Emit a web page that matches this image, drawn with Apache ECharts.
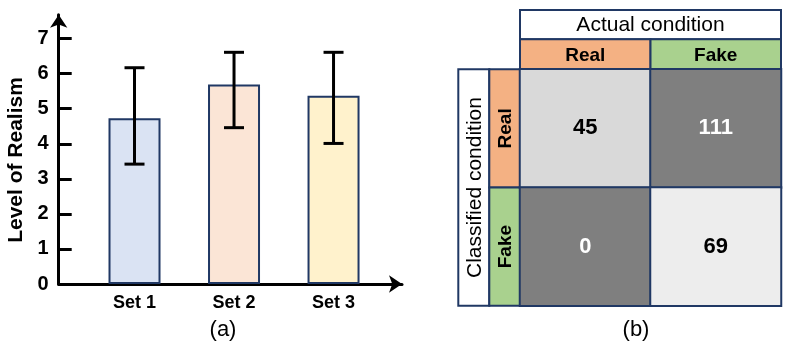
<!DOCTYPE html>
<html>
<head>
<meta charset="utf-8">
<script src="https://cdn.jsdelivr.net/npm/echarts@6/dist/echarts.min.js"></script>
<style>
html,body{margin:0;padding:0;background:#fff;}
#main{width:788px;height:343px;}
</style>
</head>
<body>
<div id="main"></div>
<script>
// ---- data: panel (a) ----
var categories = ['Set 1', 'Set 2', 'Set 3'];
var setMeans = [4.73, 5.69, 5.37];
var errLow = [3.42, 4.46, 4.01];
var errHigh = [6.17, 6.61, 6.61];
var yTicks = [0, 1, 2, 3, 4, 5, 6, 7];
var yAxisName = 'Level of Realism';
// ---- data: panel (b) ----
var actualLabels = ['Real', 'Fake'];
var classifiedLabels = ['Real', 'Fake'];
var counts = [[45, 111], [0, 69]]; // rows: classified, cols: actual
var actualTitle = 'Actual condition';
var classifiedTitle = 'Classified condition';

// ---- styles ----
var FONT = '"Liberation Sans", Arial, Helvetica, sans-serif';
var barColors = ['#DAE3F3', '#FBE5D6', '#FFF2CC'];
var headerColors = ['#F4B183', '#A9D18E'];
var cellColors = [['#D9D9D9', '#7F7F7F'], ['#7F7F7F', '#EDEDED']];
var cellTextColors = [['#000000', '#FFFFFF'], ['#FFFFFF', '#000000']];
var navy = '#203864';

var chart = echarts.init(document.getElementById('main'), null, {renderer: 'canvas'});

var barData = setMeans.map(function (v, i) { return [i + 1, v]; });
var errData = setMeans.map(function (v, i) { return [i + 1, errLow[i], errHigh[i]]; });

var heatData = [];
counts.forEach(function (row, r) {
  row.forEach(function (v, c) {
    heatData.push({
      value: [c, r, v],
      itemStyle: {color: cellColors[r][c]},
      label: {color: cellTextColors[r][c]}
    });
  });
});

// matrix layout
var mL = 520, mT = 69.3, mW = 261, mH = 236.4;
var hdrH = 30, topH = 29.3, sideW = 31, rowHdrW = 30.7;

var graphics = [];
// y axis title of panel (a)
graphics.push({type: 'text', x: 16, y: 160, rotation: Math.PI / 2,
  style: {text: yAxisName, font: 'bold 21px ' + FONT, fill: '#000', textAlign: 'center', textVerticalAlign: 'middle'}});
// Actual condition box
graphics.push({type: 'rect', shape: {x: mL, y: mT - hdrH - topH, width: mW, height: topH},
  style: {fill: '#fff', stroke: navy, lineWidth: 2}});
graphics.push({type: 'text', x: mL + mW / 2, y: mT - hdrH - topH / 2 + 1,
  style: {text: actualTitle, font: '21px ' + FONT, fill: '#000', textAlign: 'center', textVerticalAlign: 'middle'}});
actualLabels.forEach(function (lab, i) {
  graphics.push({type: 'rect', shape: {x: mL + i * mW / 2, y: mT - hdrH, width: mW / 2, height: hdrH},
    style: {fill: headerColors[i], stroke: navy, lineWidth: 2}});
  graphics.push({type: 'text', x: mL + (i + 0.5) * mW / 2, y: mT - hdrH / 2 + 1.5,
    style: {text: lab, font: 'bold 19px ' + FONT, fill: '#000', textAlign: 'center', textVerticalAlign: 'middle'}});
});
// Classified condition box
graphics.push({type: 'rect', shape: {x: mL - rowHdrW - sideW, y: mT, width: sideW, height: mH},
  style: {fill: '#fff', stroke: navy, lineWidth: 2}});
graphics.push({type: 'text', x: mL - rowHdrW - sideW / 2 + 1, y: mT + mH / 2, rotation: Math.PI / 2,
  style: {text: classifiedTitle, font: '21px ' + FONT, fill: '#000', textAlign: 'center', textVerticalAlign: 'middle'}});
classifiedLabels.forEach(function (lab, i) {
  graphics.push({type: 'rect', shape: {x: mL - rowHdrW, y: mT + i * mH / 2, width: rowHdrW, height: mH / 2},
    style: {fill: headerColors[i], stroke: navy, lineWidth: 2}});
  graphics.push({type: 'text', x: mL - rowHdrW / 2 + 1, y: mT + (i + 0.5) * mH / 2, rotation: Math.PI / 2,
    style: {text: lab, font: 'bold 19px ' + FONT, fill: '#000', textAlign: 'center', textVerticalAlign: 'middle'}});
});
// panel captions
graphics.push({type: 'text', x: 223, y: 330,
  style: {text: '(a)', font: '22px ' + FONT, fill: '#000', textAlign: 'center', textVerticalAlign: 'middle'}});
graphics.push({type: 'text', x: 636, y: 330,
  style: {text: '(b)', font: '22px ' + FONT, fill: '#000', textAlign: 'center', textVerticalAlign: 'middle'}});

var option = {
  animation: false,
  backgroundColor: '#fff',
  textStyle: {fontFamily: FONT},
  grid: [
    {left: 58.7, right: 386, top: 14.8, bottom: 59, containLabel: false},
    {left: mL, top: mT, width: mW, height: mH, containLabel: false}
  ],
  xAxis: [
    {
      type: 'value', gridIndex: 0, min: 0.2382, max: 3.688,
      splitLine: {show: false},
      axisLine: {show: true, lineStyle: {color: '#000', width: 3}, symbol: ['none', 'arrow'], symbolSize: [13, 13]},
      axisTick: {show: false},
      axisLabel: {
        customValues: [1, 2, 3], margin: 10,
        formatter: function (v) { return categories[Math.round(v) - 1] || ''; },
        color: '#000', fontWeight: 'bold', fontSize: 18, fontFamily: FONT
      }
    },
    {type: 'category', gridIndex: 1, data: actualLabels, show: false}
  ],
  yAxis: [
    {
      type: 'value', gridIndex: 0, min: 0, max: 7.68,
      splitLine: {show: false},
      axisLine: {show: true, lineStyle: {color: '#000', width: 3}, symbol: ['none', 'arrow'], symbolSize: [13, 13]},
      axisTick: {show: true, inside: true, length: 13, customValues: yTicks, lineStyle: {color: '#000', width: 3}},
      axisLabel: {customValues: yTicks, margin: 10, color: '#000', fontWeight: 'bold', fontSize: 20, fontFamily: FONT}
    },
    {type: 'category', gridIndex: 1, data: classifiedLabels, inverse: true, show: false}
  ],
  series: [
    {
      type: 'bar', xAxisIndex: 0, yAxisIndex: 0, data: barData, barWidth: 52,
      itemStyle: {
        color: function (p) { return barColors[p.dataIndex]; },
        borderColor: navy, borderWidth: 2
      },
      z: 2
    },
    {
      type: 'custom', xAxisIndex: 0, yAxisIndex: 0, data: errData, z: 5,
      renderItem: function (params, api) {
        var x = api.value(0);
        var top = api.coord([x, api.value(2)]);
        var bot = api.coord([x, api.value(1)]);
        var hw = 10;
        var st = {stroke: '#000', lineWidth: 3};
        return {
          type: 'group',
          children: [
            {type: 'line', shape: {x1: top[0], y1: top[1], x2: bot[0], y2: bot[1]}, style: st},
            {type: 'line', shape: {x1: top[0] - hw, y1: top[1], x2: top[0] + hw, y2: top[1]}, style: st},
            {type: 'line', shape: {x1: bot[0] - hw, y1: bot[1], x2: bot[0] + hw, y2: bot[1]}, style: st}
          ]
        };
      }
    },
    {
      type: 'heatmap', xAxisIndex: 1, yAxisIndex: 1, data: heatData,
      itemStyle: {borderColor: navy, borderWidth: 2},
      label: {show: true, fontSize: 22, fontWeight: 'bold', fontFamily: FONT,
        formatter: function (p) { return p.value[2]; }},
      emphasis: {disabled: true}
    }
  ],
  graphic: graphics
};
chart.setOption(option);
</script>
</body>
</html>
